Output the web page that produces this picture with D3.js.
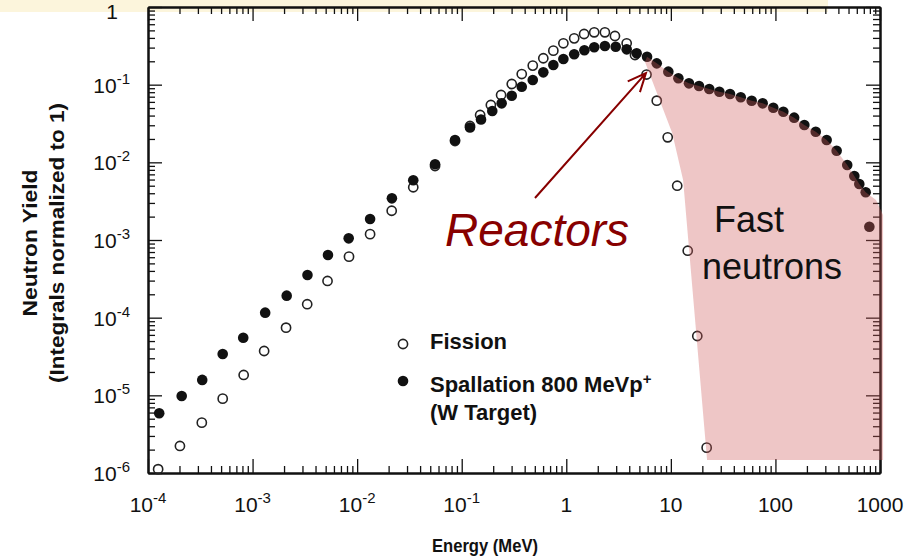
<!DOCTYPE html>
<html lang="en">
<head>
<meta charset="UTF-8">
<title>Neutron yield vs energy</title>
<script src="https://d3js.org/d3.v7.min.js"></script>
<style>
  body { margin: 0; background: #fff; }
  svg { display: block; font-family: "Liberation Sans", Arial, Helvetica, sans-serif; }
  .domain { stroke: #111; stroke-width: 2; }
  .tick line { stroke: #111; stroke-width: 1.3; }
  .tick-label { font-size: 21px; fill: #111; }
  .axis-title { font-size: 17px; font-weight: bold; fill: #111; }
  .legend-text { font-size: 22px; font-weight: bold; fill: #111; }
</style>
</head>
<body>
<svg width="917" height="559"></svg>
<script>
// Energy (MeV) and yield (integrals normalised to 1)
const spallationE = [1.28e-4, 2.10e-4, 3.30e-4, 5.18e-4, 8.14e-4, 1.32e-3, 2.12e-3, 3.35e-3, 5.26e-3, 8.30e-3,
  1.33e-2, 2.15e-2, 3.44e-2, 5.56e-2, 8.63e-2, 0.120, 0.153, 0.196, 0.241, 0.301, 0.375, 0.478, 0.603, 0.752,
  0.938, 1.19, 1.49, 1.85, 2.34, 2.97, 3.78, 4.71, 5.92, 7.33, 9.46, 11.8, 14.9, 18.6, 23.3, 29.1, 36.8, 46.6,
  59.3, 75.5, 95.4, 119, 151, 189, 243, 309, 385, 486, 568, 634, 730, 791];
const spallationY = [5.87e-6, 9.8e-6, 1.58e-5, 3.41e-5, 5.52e-5, 1.16e-4, 1.92e-4, 3.55e-4, 6.41e-4, 1.05e-3,
  1.86e-3, 3.44e-3, 5.87e-3, 9.44e-3, 1.94e-2, 2.81e-2, 3.56e-2, 4.58e-2, 5.75e-2, 7.21e-2, 9.42e-2, 0.115, 0.144,
  0.179, 0.214, 0.246, 0.277, 0.303, 0.315, 0.308, 0.285, 0.253, 0.229, 0.188, 0.147, 0.121, 0.104, 9.61e-2,
  8.80e-2, 8.11e-2, 7.59e-2, 6.88e-2, 6.22e-2, 5.75e-2, 5.05e-2, 4.49e-2, 3.76e-2, 3.03e-2, 2.48e-2, 1.94e-2,
  1.41e-2, 9.24e-3, 6.67e-3, 5.26e-3, 4.11e-3, 1.48e-3];

const fissionE = [1.25e-4, 2.02e-4, 3.27e-4, 5.18e-4, 8.22e-4, 1.29e-3, 2.09e-3, 3.33e-3, 5.21e-3, 8.36e-3,
  1.33e-2, 2.14e-2, 3.44e-2, 5.56e-2, 8.63e-2, 0.120, 0.150, 0.190, 0.238, 0.301, 0.375, 0.478, 0.603, 0.752,
  0.938, 1.19, 1.48, 1.85, 2.34, 2.92, 3.78, 4.54, 5.85, 7.33, 9.33, 11.5, 14.5, 17.9, 22.0];
const fissionY = [1.12e-6, 2.23e-6, 4.45e-6, 9.06e-6, 1.83e-5, 3.72e-5, 7.43e-5, 1.49e-4, 2.97e-4, 6.10e-4,
  1.19e-3, 2.38e-3, 4.77e-3, 8.97e-3, 1.88e-2, 2.94e-2, 4.07e-2, 5.47e-2, 7.36e-2, 0.102, 0.137, 0.176, 0.219,
  0.274, 0.341, 0.395, 0.449, 0.472, 0.472, 0.423, 0.341, 0.241, 0.135, 6.22e-2, 2.10e-2, 5.00e-3, 7.28e-4,
  5.81e-5, 2.12e-6];

const xTicks = [1e-4, 1e-3, 1e-2, 1e-1, 1, 10, 100, 1000];
const xTickLabels = [["10", "-4"], ["10", "-3"], ["10", "-2"], ["10", "-1"], ["1", ""], ["10", ""], ["100", ""], ["1000", ""]];
const yTicks = [1e-6, 1e-5, 1e-4, 1e-3, 1e-2, 1e-1, 1];
const yTickLabels = [["10", "-6"], ["10", "-5"], ["10", "-4"], ["10", "-3"], ["10", "-2"], ["10", "-1"], ["1", ""]];

// shaded "fast neutrons" region: corners besides the spallation points on its top edge
const fastStart = [[5.66, 0.196]];
const fastEnd = [[916, 3.27e-3], [1070, 2.1e-3], [1070, 1.47e-6], [22.2, 1.47e-6], [13.1, 5.93e-3], [10.3, 2.39e-2]];
// "Reactors" arrow, from label to tip
const reactorArrow = [[0.502, 3.47e-3], [5.78, 0.141]];

const L = 148, R = 880, T = 7, B = 473;
const svg = d3.select("svg");

const x = d3.scaleLog().domain([1e-4, 1000]).range([L, R]);
const y = d3.scaleLog().domain([1e-6, 1]).range([B, T]);

// pale band left over from the slide at the top
svg.append("rect").attr("x", 0).attr("y", 0).attr("width", 828).attr("height", 12).attr("fill", "#fcf5dc");

// axes: major + minor ticks pointing inward on all four sides
const minor = (lo, hi) => d3.range(lo, hi).flatMap(p => d3.range(2, 10).map(k => k * Math.pow(10, p)));
const xMinor = minor(-4, 3), yMinor = minor(-6, 0);
[[d3.axisBottom, x, `translate(0,${B})`], [d3.axisTop, x, `translate(0,${T})`],
 [d3.axisLeft, y, `translate(${L},0)`], [d3.axisRight, y, `translate(${R},0)`]].forEach(([make, sc, tr]) => {
  const isX = sc === x;
  const g = svg.append("g").attr("transform", tr);
  g.append("g").call(make(sc).tickValues(isX ? xMinor : yMinor).tickSize(-7).tickSizeOuter(0).tickFormat(""));
  g.append("g").call(make(sc).tickValues(isX ? xTicks : yTicks).tickSize(-14).tickSizeOuter(0).tickFormat(""));
});

function power(sel, lab) {
  sel.append("tspan").text(lab[0]);
  if (lab[1]) sel.append("tspan").attr("dy", -9).attr("font-size", 15).text(lab[1]);
}

svg.append("g").selectAll("text").data(xTicks).join("text")
  .attr("class", "tick-label").attr("text-anchor", "middle")
  .attr("x", d => x(d)).attr("y", B + 39)
  .each(function(d, i) { power(d3.select(this), xTickLabels[i]); });

svg.append("g").selectAll("text").data(yTicks).join("text")
  .attr("class", "tick-label").attr("text-anchor", "end")
  .attr("x", d => d === 1 ? L - 30 : L - 18).attr("y", d => Math.max(y(d) + 8, 19))
  .each(function(d, i) { power(d3.select(this), yTickLabels[i]); });

// axis titles
svg.append("text").attr("class", "axis-title").attr("text-anchor", "middle")
  .attr("x", 485).attr("y", 552)
  .attr("textLength", 106).attr("lengthAdjust", "spacingAndGlyphs")
  .style("font-size", "19px").text("Energy (MeV)");
svg.append("text").attr("class", "axis-title").attr("text-anchor", "middle")
  .attr("transform", "translate(37,243) rotate(-90)")
  .attr("textLength", 147).attr("lengthAdjust", "spacingAndGlyphs")
  .style("font-size", "20px").text("Neutron Yield");
svg.append("text").attr("class", "axis-title").attr("text-anchor", "middle")
  .attr("transform", "translate(64,243) rotate(-90)")
  .attr("textLength", 280).attr("lengthAdjust", "spacingAndGlyphs")
  .style("font-size", "20px").text("(Integrals normalized to 1)");

// data points
const fission = fissionE.map((e, i) => [e, fissionY[i]]);
const spallation = spallationE.map((e, i) => [e, spallationY[i]]);

svg.append("g").selectAll("circle").data(fission).join("circle")
  .attr("cx", d => x(d[0])).attr("cy", d => y(d[1])).attr("r", 4.6)
  .attr("fill", "none").attr("stroke", "#222").attr("stroke-width", 1.6);

svg.append("g").selectAll("circle").data(spallation).join("circle")
  .attr("cx", d => x(d[0])).attr("cy", d => y(d[1])).attr("r", 5.3)
  .attr("fill", "#111");

// fast-neutron shading laid over the points
const fastRegion = fastStart
  .concat(spallation.filter(d => d[0] > 5.9 && d[0] < 740))
  .concat(fastEnd);
svg.append("path")
  .attr("d", d3.line().x(d => x(d[0])).y(d => y(d[1]))(fastRegion) + "Z")
  .attr("fill", "rgb(206,92,92)").attr("fill-opacity", 0.35);

// legend
svg.append("circle").attr("cx", 403).attr("cy", 344).attr("r", 4.6)
  .attr("fill", "none").attr("stroke", "#222").attr("stroke-width", 1.6);
svg.append("circle").attr("cx", 403).attr("cy", 381).attr("r", 5.3).attr("fill", "#111");
svg.append("text").attr("class", "legend-text").attr("x", 430).attr("y", 349).text("Fission");
const sp = svg.append("text").attr("class", "legend-text").attr("x", 430).attr("y", 392);
sp.append("tspan").text("Spallation 800 MeVp");
sp.append("tspan").attr("dy", -8).attr("font-size", 15).text("+");
svg.append("text").attr("class", "legend-text").attr("x", 430).attr("y", 420).text("(W Target)");

// annotations
const [a0, a1] = reactorArrow.map(d => [x(d[0]), y(d[1])]);
const ang = Math.atan2(a1[1] - a0[1], a1[0] - a0[0]);
const head = s => [a1[0] - 20 * Math.cos(ang + s), a1[1] - 20 * Math.sin(ang + s)];
svg.append("path")
  .attr("d", `M${a0}L${a1}M${head(0.42)}L${a1}L${head(-0.42)}`)
  .attr("fill", "none").attr("stroke", "#870000").attr("stroke-width", 2);

svg.append("text").attr("x", 445).attr("y", 246)
  .style("font-size", "46px").style("font-style", "italic").attr("fill", "#870000").text("Reactors");
svg.append("text").attr("x", 749).attr("y", 232).attr("text-anchor", "middle")
  .style("font-size", "36px").attr("fill", "#111").text("Fast");
svg.append("text").attr("x", 772).attr("y", 279).attr("text-anchor", "middle")
  .style("font-size", "36px").attr("fill", "#111").text("neutrons");
</script>
</body>
</html>
